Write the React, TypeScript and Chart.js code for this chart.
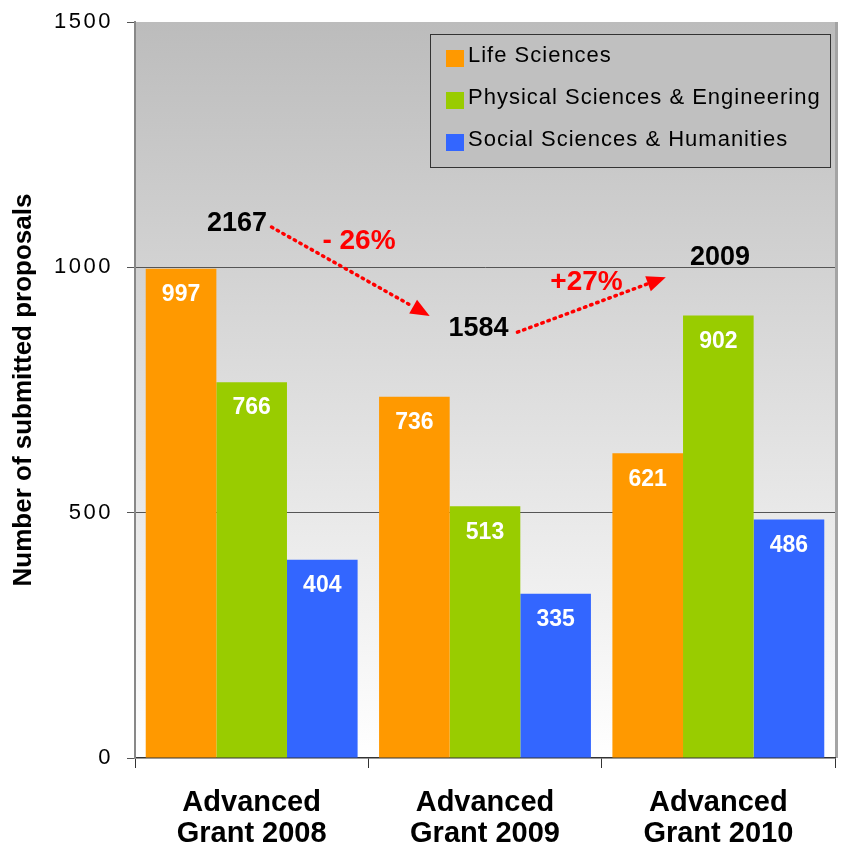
import React, { useEffect, useRef } from 'react';
import { Chart, registerables } from 'chart.js';
Chart.register(...registerables);

const categories = [
  ['Advanced', 'Grant 2008'],
  ['Advanced', 'Grant 2009'],
  ['Advanced', 'Grant 2010'],
];
const seriesNames = ['Life Sciences', 'Physical Sciences & Engineering', 'Social Sciences & Humanities'];
const lifeSciences = [997, 736, 621];
const physicalSciences = [766, 513, 902];
const socialSciences = [404, 335, 486];
const totals = [2167, 1584, 2009];
const changeLabels = ['- 26%', '+27%'];
const yTicks = [0, 500, 1000, 1500];
const yTitle = 'Number of submitted proposals';

const seriesColors = ['#FF9900', '#99CC00', '#3366FF'];

// annotation anchors in data space: [category index, value]
const totalAnchors = [[-0.063, 1090], [0.972, 876], [2.007, 1020]];
const changeAnchors = [[0.46, 1054], [1.435, 969]];
const arrowAnchors = [
  [[0.085, 1082], [0.763, 901]],
  [[1.139, 868], [1.775, 980]],
];

const FONT = "'Liberation Sans', Arial, sans-serif";

const customPlugin = {
  id: 'customDraw',
  beforeDraw(chart: any) {
    const { ctx, chartArea: a } = chart;
    ctx.save();
    const g = ctx.createLinearGradient(0, a.top, 0, a.bottom);
    g.addColorStop(0, '#bcbcbc');
    g.addColorStop(1, '#ffffff');
    ctx.fillStyle = g;
    ctx.fillRect(a.left, a.top, a.right - a.left, a.bottom - a.top);
    ctx.fillStyle = '#a4a4a4';
    ctx.fillRect(a.right, a.top, 3, a.bottom - a.top);
    ctx.restore();
  },
  afterDatasetsDraw(chart: any) {
    const { ctx } = chart;
    ctx.save();
    ctx.font = `bold 23px ${FONT}`;
    ctx.fillStyle = '#ffffff';
    ctx.textAlign = 'center';
    ctx.textBaseline = 'middle';
    chart.data.datasets.forEach((ds: any, di: number) => {
      const meta = chart.getDatasetMeta(di);
      meta.data.forEach((el: any, i: number) => {
        ctx.fillText(String(ds.data[i]), el.x, el.y + 26);
      });
    });
    ctx.restore();
  },
  afterDraw(chart: any) {
    const { ctx } = chart;
    const xs = chart.scales.x;
    const ys = chart.scales.y;
    const px = (p: number[]) => [xs.getPixelForValue(p[0]), ys.getPixelForValue(p[1])];

    // y tick labels
    ctx.save();
    ctx.font = `22px ${FONT}`;
    (ctx as any).letterSpacing = '2.5px';
    ctx.fillStyle = '#000';
    ctx.textAlign = 'right';
    ctx.textBaseline = 'middle';
    ys.ticks.forEach((t: any) => {
      ctx.fillText(String(t.value), 113, ys.getPixelForValue(t.value));
    });
    ctx.restore();

    // arrows
    ctx.save();
    arrowAnchors.forEach(([s, e]) => {
      const [x1, y1] = px(s);
      const [x2, y2] = px(e);
      const ang = Math.atan2(y2 - y1, x2 - x1);
      const headLen = 19;
      const headW = 8;
      const bx = x2 - headLen * Math.cos(ang);
      const by = y2 - headLen * Math.sin(ang);
      ctx.strokeStyle = '#ff0000';
      ctx.lineWidth = 3.5;
      ctx.lineCap = 'round';
      ctx.setLineDash([1.5, 5]);
      ctx.beginPath();
      ctx.moveTo(x1, y1);
      ctx.lineTo(bx, by);
      ctx.stroke();
      ctx.setLineDash([]);
      ctx.fillStyle = '#ff0000';
      ctx.beginPath();
      ctx.moveTo(x2, y2);
      ctx.lineTo(bx + headW * Math.sin(ang), by - headW * Math.cos(ang));
      ctx.lineTo(bx - headW * Math.sin(ang), by + headW * Math.cos(ang));
      ctx.closePath();
      ctx.fill();
    });
    ctx.restore();

    // totals
    ctx.save();
    ctx.textAlign = 'center';
    ctx.textBaseline = 'middle';
    ctx.font = `bold 27px ${FONT}`;
    ctx.fillStyle = '#000';
    totals.forEach((t, i) => {
      const [x, y] = px(totalAnchors[i]);
      ctx.fillText(String(t), x, y);
    });
    ctx.font = `bold 28px ${FONT}`;
    ctx.fillStyle = '#ff0000';
    changeLabels.forEach((c, i) => {
      const [x, y] = px(changeAnchors[i]);
      ctx.fillText(c, x, y);
    });
    ctx.restore();

    // legend
    ctx.save();
    ctx.fillStyle = '#c0c0c0';
    ctx.fillRect(430, 34, 400, 133);
    ctx.strokeStyle = '#333';
    ctx.lineWidth = 1;
    ctx.strokeRect(430.5, 34.5, 400, 133);
    ctx.font = `22px ${FONT}`;
    (ctx as any).letterSpacing = '1px';
    ctx.textAlign = 'left';
    ctx.textBaseline = 'middle';
    chart.data.datasets.forEach((ds: any, i: number) => {
      const cy = 56 + i * 42;
      ctx.fillStyle = ds.backgroundColor;
      ctx.fillRect(446, cy - 6, 18, 17);
      ctx.fillStyle = '#000';
      ctx.fillText(ds.label, 468, cy);
    });
    ctx.restore();
  },
};

export default function App() {
  const ref = useRef<HTMLCanvasElement>(null);
  useEffect(() => {
    document.body.style.margin = '0';
    const seriesData = [lifeSciences, physicalSciences, socialSciences];
    const chart = new Chart(ref.current as HTMLCanvasElement, {
      type: 'bar',
      data: {
        labels: categories as any,
        datasets: seriesNames.map((n, i) => ({
          label: n,
          data: seriesData[i],
          backgroundColor: seriesColors[i],
          borderWidth: 0,
          categoryPercentage: 0.908,
          barPercentage: 1,
        })),
      },
      options: {
        responsive: false,
        animation: false,
        layout: { padding: { top: 22, right: 11, left: 0, bottom: 0 } },
        plugins: { legend: { display: false }, tooltip: { enabled: false } },
        scales: {
          x: {
            grid: { offset: true, drawOnChartArea: false, tickLength: 10, color: '#333', lineWidth: 1 },
            border: { color: '#333', width: 1.5 },
            ticks: {
              color: '#000',
              font: { family: FONT, weight: 'bold', size: 29, lineHeight: 1.05 },
              padding: 20,
              maxRotation: 0,
              autoSkip: false,
            },
            afterFit: (s: any) => { s.height = 94; },
          },
          y: {
            min: 0,
            max: 1500,
            afterBuildTicks: (s: any) => { s.ticks = yTicks.map((v) => ({ value: v })); },
            grid: {
              color: (c: any) => (c.tick && (c.tick.value === 500 || c.tick.value === 1000) ? '#555' : 'rgba(0,0,0,0)'),
              tickColor: '#555',
              tickLength: 8,
              lineWidth: 1,
            },
            border: { color: '#888', width: 2 },
            ticks: { color: 'rgba(0,0,0,0)', font: { family: FONT, size: 6 }, padding: 17 },
            title: {
              display: true,
              text: yTitle,
              color: '#000',
              font: { family: FONT, weight: 'bold', size: 26 },
              padding: { top: 8, bottom: 0 },
            },
            afterFit: (s: any) => { s.width = 135; },
          },
        },
      },
      plugins: [customPlugin],
    } as any);
    return () => chart.destroy();
  }, []);
  return (
    <div style={{ width: 846, height: 852 }}>
      <canvas ref={ref} width={846} height={852} style={{ display: 'block' }} />
    </div>
  );
}
